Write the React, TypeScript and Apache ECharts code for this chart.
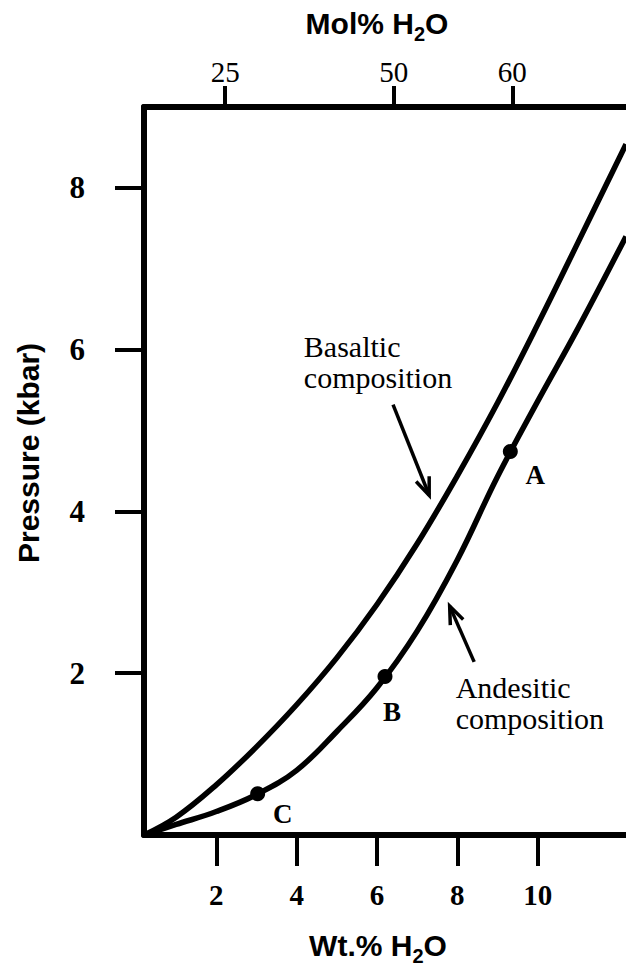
import React, { useEffect, useRef } from "react";
import * as echarts from "echarts";

// ---- data ----
const wtTicks = [2, 4, 6, 8, 10];
const pressureTicks = [2, 4, 6, 8];
const molTickPositions = [2.22, 6.42, 9.37]; // positions on the wt.% scale
const molTickLabels = ["25", "50", "60"];

const basalticX = [0.2, 1, 2, 3, 4, 5, 6, 7, 8, 9, 10, 11, 12.2];
const basalticP = [0, 0.22, 0.62, 1.09, 1.61, 2.19, 2.85, 3.6, 4.44, 5.34, 6.31, 7.32, 8.54];

const andesiticX = [0.2, 1, 2, 3, 4, 5, 6, 7, 8, 9, 10, 11, 12.2];
const andesiticP = [0, 0.13, 0.29, 0.5, 0.8, 1.28, 1.82, 2.52, 3.4, 4.43, 5.36, 6.26, 7.4];

const pointNames = ["A", "B", "C"];
const pointX = [9.32, 6.2, 3.03];
const pointP = [4.74, 1.96, 0.51];

const noteTexts = ["Basaltic\ncomposition", "Andesitic\ncomposition"];
const noteX = [4.18, 7.96];
const noteP = [5.85, 1.63];

const arrowFromX = [6.4, 8.42];
const arrowFromP = [5.32, 2.14];
const arrowToX = [7.3, 7.81];
const arrowToP = [4.2, 2.83];

// ---- styles ----
const SERIF = "'Liberation Serif', 'Times New Roman', serif";
const SANS = "'Liberation Sans', Arial, Helvetica, sans-serif";
const labelOffsets: [number, number][] = [
  [25, 23],
  [7, 36],
  [25, 20],
];

export default function App() {
  const ref = useRef<HTMLDivElement>(null);

  useEffect(() => {
    if (!ref.current) return;
    const chart = echarts.init(ref.current, null, { renderer: "svg" });

    const titleRich = {
      m: { fontFamily: SANS, fontWeight: "bold", fontSize: 30, lineHeight: 42, verticalAlign: "middle", fill: "#000", color: "#000" },
      s: { fontFamily: SANS, fontWeight: "bold", fontSize: 20, lineHeight: 21, verticalAlign: "bottom", fill: "#000", color: "#000" },
    };

    const option: any = {
      animation: false,
      backgroundColor: "#fff",
      grid: { left: 144, top: 107, bottom: 136, right: -10, containLabel: false },
      xAxis: [
        {
          type: "value",
          position: "bottom",
          min: 0.2,
          max: 12.2,
          axisLine: { show: true, onZero: false, lineStyle: { color: "#000", width: 6 } },
          axisTick: { show: true, length: 31, customValues: wtTicks, lineStyle: { color: "#000", width: 4 } },
          axisLabel: {
            show: true,
            customValues: wtTicks,
            margin: 45,
            fontFamily: SERIF,
            fontWeight: "bold",
            fontSize: 29,
            color: "#000",
          },
          splitLine: { show: false },
        },
        {
          type: "value",
          position: "top",
          min: 0.2,
          max: 12.2,
          axisLine: { show: true, onZero: false, lineStyle: { color: "#000", width: 6 } },
          axisTick: { show: true, length: 21, customValues: molTickPositions, lineStyle: { color: "#000", width: 4 } },
          axisLabel: {
            show: true,
            customValues: molTickPositions,
            margin: 21,
            fontFamily: SERIF,
            fontSize: 29,
            color: "#000",
            formatter: (v: number) => {
              let best = 0;
              molTickPositions.forEach((p, i) => {
                if (Math.abs(p - v) < Math.abs(molTickPositions[best] - v)) best = i;
              });
              return molTickLabels[best];
            },
          },
          splitLine: { show: false },
        },
      ],
      yAxis: {
        type: "value",
        min: 0,
        max: 9,
        axisLine: { show: true, onZero: false, lineStyle: { color: "#000", width: 6 } },
        axisTick: { show: true, length: 29, customValues: pressureTicks, lineStyle: { color: "#000", width: 4 } },
        axisLabel: {
          show: true,
          customValues: pressureTicks,
          margin: 59,
          fontFamily: SERIF,
          fontWeight: "bold",
          fontSize: 31,
          color: "#000",
        },
        splitLine: { show: false },
      },
      series: [
        {
          name: "Basaltic composition",
          type: "line",
          smooth: 0.4,
          symbol: "none",
          data: basalticX.map((x, i) => [x, basalticP[i]]),
          lineStyle: { color: "#000", width: 5.5 },
        },
        {
          name: "Andesitic composition",
          type: "line",
          smooth: 0.4,
          symbol: "none",
          data: andesiticX.map((x, i) => [x, andesiticP[i]]),
          lineStyle: { color: "#000", width: 5.5 },
        },
        {
          name: "Points",
          type: "scatter",
          symbol: "circle",
          symbolSize: 15,
          itemStyle: { color: "#000", opacity: 1 },
          z: 5,
          data: pointNames.map((n, i) => ({
            name: n,
            value: [pointX[i], pointP[i]],
            label: { offset: labelOffsets[i] },
          })),
          label: {
            show: true,
            position: "inside",
            formatter: "{b}",
            fontFamily: SERIF,
            fontWeight: "bold",
            fontSize: 27,
            color: "#000",
            opacity: 1,
          },
        },
      ],
    };

    chart.setOption(option);

    const toPx = (x: number, y: number) => chart.convertToPixel({ seriesIndex: 0 }, [x, y]) as number[];

    const graphics: any[] = [];
    // Axis titles
    graphics.push({
      type: "text",
      x: 377,
      y: 23,
      style: { text: "{m|Mol% H}{s|2}{m|O}", rich: titleRich, align: "center", verticalAlign: "middle" },
    });
    graphics.push({
      type: "text",
      x: 378,
      y: 945,
      style: { text: "{m|Wt.% H}{s|2}{m|O}", rich: titleRich, align: "center", verticalAlign: "middle" },
    });
    graphics.push({
      type: "text",
      x: 28,
      y: 453,
      rotation: Math.PI / 2,
      style: {
        text: "Pressure (kbar)",
        fontFamily: SANS,
        fontWeight: "bold",
        fontSize: 30,
        fill: "#000",
        align: "center",
        verticalAlign: "middle",
      },
    });
    // Annotations
    noteTexts.forEach((t, i) => {
      const [px, py] = toPx(noteX[i], noteP[i]);
      graphics.push({
        type: "text",
        x: px,
        y: py,
        style: {
          text: t,
          fontFamily: SERIF,
          fontSize: 30,
          lineHeight: 31,
          fill: "#000",
          align: "left",
          verticalAlign: "middle",
        },
      });
    });
    arrowFromX.forEach((_, i) => {
      const [x1, y1] = toPx(arrowFromX[i], arrowFromP[i]);
      const [x2, y2] = toPx(arrowToX[i], arrowToP[i]);
      const ang = Math.atan2(y2 - y1, x2 - x1);
      const hl = 19;
      const spread = 0.38;
      const h1 = [x2 - hl * Math.cos(ang - spread), y2 - hl * Math.sin(ang - spread)];
      const h2 = [x2 - hl * Math.cos(ang + spread), y2 - hl * Math.sin(ang + spread)];
      graphics.push({
        type: "line",
        shape: { x1, y1, x2, y2 },
        style: { stroke: "#000", lineWidth: 3.5 },
      });
      graphics.push({
        type: "polyline",
        shape: { points: [h1, [x2, y2], h2] },
        style: { stroke: "#000", lineWidth: 3.5, fill: null },
      });
    });

    chart.setOption({ graphic: graphics });

    return () => chart.dispose();
  }, []);

  return (
    <div
      ref={ref}
      style={{ position: "absolute", left: 0, top: 0, width: 626, height: 971, overflow: "hidden", background: "#fff" }}
    />
  );
}
